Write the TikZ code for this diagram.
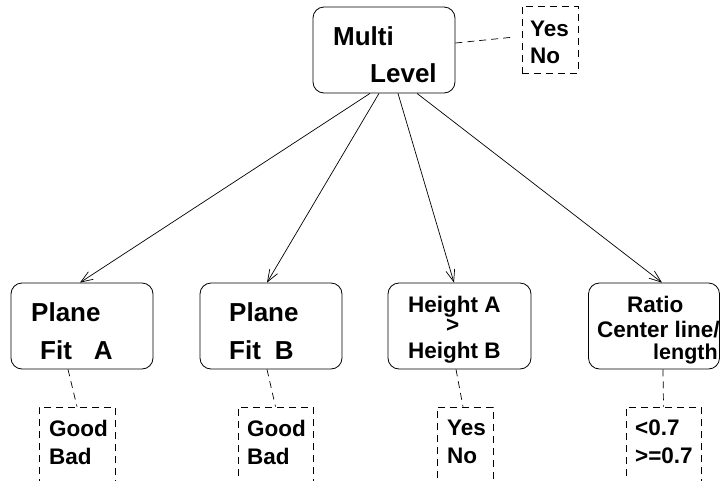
\documentclass[tikz,border=0pt]{standalone}
\usepackage{fontspec}
\setmainfont{Liberation Sans}
\usetikzlibrary{arrows.meta}
\begin{document}
\begin{tikzpicture}[x=1pt,y=-1pt,
  test/.style={draw, rounded corners=11pt, line width=0.8pt, inner sep=0pt, minimum height=86pt},
  outcome/.style={draw, dash pattern=on 7pt off 5pt, line width=0.8pt, inner sep=0pt},
  link/.style={dash pattern=on 7pt off 5pt, line width=0.7pt},
  branch/.style={line width=0.7pt, -{Straight Barb[length=12pt,width=9pt,line width=0.7pt]}},
  lbl/.style={anchor=base west, inner sep=0pt, font=\bfseries\fontsize{22.5}{27}\selectfont},
  big/.style={lbl, font=\bfseries\fontsize{26}{31}\selectfont}]
\useasboundingbox (0,0) rectangle (721,480);
\clip (0,0) rectangle (721,480);

% root test and its outcomes
\node[test, minimum width=142pt] (ml) at (384,50) {};
\node[outcome, minimum width=56pt, minimum height=67pt] (mlo) at (550,39.5) {};
\node[big] (mlt1) at (333,45) {Multi};
\node[big] (mlt2) at (370,82) {Level};
\node[lbl] (mlo1) at (530,36) {Yes};
\node[lbl] (mlo2) at (530,63) {No};
\draw[link] ([yshift=7pt]ml.east) -- ([xshift=-7pt,yshift=2.5pt]mlo.west);

% second-level tests
\node[test, minimum width=142pt] (pa) at (82,326) {};
\node[test, minimum width=142pt] (pb) at (271,326) {};
\node[test, minimum width=143pt] (hh) at (459.5,326) {};
\node[test, minimum width=131pt] (rt) at (654,326) {};

\node[big] (pa1) at (31,321) {Plane};
\node[big] (pa2) at (40,359) {Fit\hspace{22pt}A};
\node[big] (pb1) at (229,321) {Plane};
\node[big] (pb2) at (229,359) {Fit\hspace{14pt}B};
\node[lbl] (hh1) at (408,312) {Height A};
\node[lbl] (hh2) at (446,332) {>};
\node[lbl] (hh3) at (408,358) {Height B};
\node[lbl] (rt1) at (627,312) {Ratio};
\node[lbl] (rt2) at (597,337) {Center line/};
\node[lbl, font=\bfseries\fontsize{21.5}{26}\selectfont] (rt3) at (653,359) {length};

% branches from the root
\draw[branch] ([xshift=-14pt]ml.south) -- ([xshift=-2pt]pa.north);
\draw[branch] ([xshift=-5pt]ml.south) -- ([xshift=-4pt]pb.north);
\draw[branch] ([xshift=14pt]ml.south) -- ([xshift=-5.5pt]hh.north);
\draw[branch] ([xshift=33pt]ml.south) -- ([xshift=8pt]rt.north);

% outcome boxes below each test
\node[outcome, minimum width=76pt, minimum height=100pt] (oa) at (77,457) {};
\node[outcome, minimum width=75pt, minimum height=100pt] (ob) at (275.5,457) {};
\node[outcome, minimum width=56pt, minimum height=100pt] (oh) at (465,457) {};
\node[outcome, minimum width=75pt, minimum height=100pt] (or) at (663.5,457) {};

\node[lbl] (oa1) at (49,436) {Good};
\node[lbl] (oa2) at (49,464) {Bad};
\node[lbl] (ob1) at (247,436) {Good};
\node[lbl] (ob2) at (247,464) {Bad};
\node[lbl] (oh1) at (447,435) {Yes};
\node[lbl] (oh2) at (447,463) {No};
\node[lbl] (or1) at (635,435) {<0.7};
\node[lbl] (or2) at (635,463) {>=0.7};

\draw[link] ([xshift=-14pt]pa.south) -- (oa.north);
\draw[link] ([xshift=-4pt]pb.south) -- (ob.north);
\draw[link] ([xshift=-3.5pt]hh.south) -- ([xshift=-2pt]oh.north);
\draw[link] ([xshift=9pt]rt.south) -- (or.north);
\end{tikzpicture}
\end{document}
